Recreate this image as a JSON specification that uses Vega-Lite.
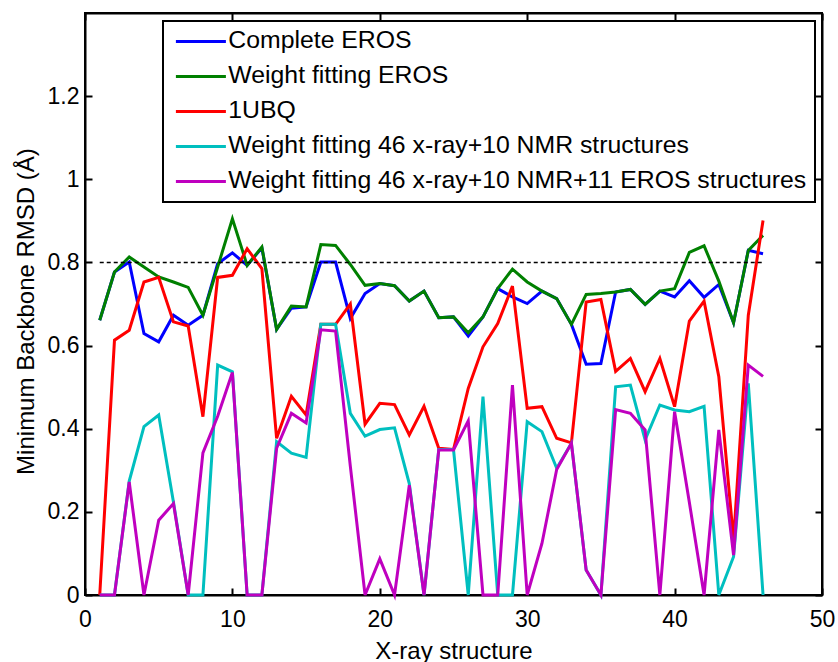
{
  "$schema": "https://vega.github.io/schema/vega-lite/v6.json",
  "width": 737,
  "height": 582,
  "autosize": {"type": "none"},
  "padding": {"left": 85, "top": 13, "right": 16, "bottom": 67},
  "background": "white",
  "config": {
    "font": "Liberation Sans",
    "view": {"stroke": "black", "strokeWidth": 2},
    "axis": {
      "domainColor": "black", "domainWidth": 2,
      "tickColor": "black", "tickWidth": 2, "tickSize": -7,
      "grid": false,
      "labelColor": "black", "labelFont": "Liberation Sans", "labelFontSize": 23,
      "titleFont": "Liberation Sans", "titleFontSize": 24, "titleFontWeight": "normal", "titleColor": "black",
      "labelFlush": false, "labelOverlap": false
    },
    "legend": {"strokeWidth": 2}
  },
  "datasets": {
    "d": [
      {"s":"Complete EROS","x":1,"v":0.661},{"s":"Complete EROS","x":2,"v":0.777},{"s":"Complete EROS","x":3,"v":0.801},{"s":"Complete EROS","x":4,"v":0.629},{"s":"Complete EROS","x":5,"v":0.609},{"s":"Complete EROS","x":6,"v":0.673},{"s":"Complete EROS","x":7,"v":0.649},{"s":"Complete EROS","x":8,"v":0.673},{"s":"Complete EROS","x":9,"v":0.797},{"s":"Complete EROS","x":10,"v":0.823},
      {"s":"Complete EROS","x":11,"v":0.793},{"s":"Complete EROS","x":12,"v":0.835},{"s":"Complete EROS","x":13,"v":0.639},{"s":"Complete EROS","x":14,"v":0.69},{"s":"Complete EROS","x":15,"v":0.693},{"s":"Complete EROS","x":16,"v":0.801},{"s":"Complete EROS","x":17,"v":0.801},{"s":"Complete EROS","x":18,"v":0.665},{"s":"Complete EROS","x":19,"v":0.725},{"s":"Complete EROS","x":20,"v":0.749},
      {"s":"Complete EROS","x":21,"v":0.744},{"s":"Complete EROS","x":22,"v":0.707},{"s":"Complete EROS","x":23,"v":0.731},{"s":"Complete EROS","x":24,"v":0.667},{"s":"Complete EROS","x":25,"v":0.669},{"s":"Complete EROS","x":26,"v":0.623},{"s":"Complete EROS","x":27,"v":0.669},{"s":"Complete EROS","x":28,"v":0.737},{"s":"Complete EROS","x":29,"v":0.717},{"s":"Complete EROS","x":30,"v":0.701},
      {"s":"Complete EROS","x":31,"v":0.731},{"s":"Complete EROS","x":32,"v":0.713},{"s":"Complete EROS","x":33,"v":0.651},{"s":"Complete EROS","x":34,"v":0.555},{"s":"Complete EROS","x":35,"v":0.557},{"s":"Complete EROS","x":36,"v":0.729},{"s":"Complete EROS","x":37,"v":0.735},{"s":"Complete EROS","x":38,"v":0.699},{"s":"Complete EROS","x":39,"v":0.731},{"s":"Complete EROS","x":40,"v":0.717},
      {"s":"Complete EROS","x":41,"v":0.756},{"s":"Complete EROS","x":42,"v":0.716},{"s":"Complete EROS","x":43,"v":0.747},{"s":"Complete EROS","x":44,"v":0.655},{"s":"Complete EROS","x":45,"v":0.829},{"s":"Complete EROS","x":46,"v":0.821},

      {"s":"Weight fitting EROS","x":1,"v":0.661},{"s":"Weight fitting EROS","x":2,"v":0.777},{"s":"Weight fitting EROS","x":3,"v":0.813},{"s":"Weight fitting EROS","x":4,"v":0.789},{"s":"Weight fitting EROS","x":5,"v":0.765},{"s":"Weight fitting EROS","x":6,"v":0.753},{"s":"Weight fitting EROS","x":7,"v":0.74},{"s":"Weight fitting EROS","x":8,"v":0.673},{"s":"Weight fitting EROS","x":9,"v":0.789},{"s":"Weight fitting EROS","x":10,"v":0.905},
      {"s":"Weight fitting EROS","x":11,"v":0.793},{"s":"Weight fitting EROS","x":12,"v":0.837},{"s":"Weight fitting EROS","x":13,"v":0.639},{"s":"Weight fitting EROS","x":14,"v":0.695},{"s":"Weight fitting EROS","x":15,"v":0.693},{"s":"Weight fitting EROS","x":16,"v":0.843},{"s":"Weight fitting EROS","x":17,"v":0.841},{"s":"Weight fitting EROS","x":18,"v":0.795},{"s":"Weight fitting EROS","x":19,"v":0.745},{"s":"Weight fitting EROS","x":20,"v":0.749},
      {"s":"Weight fitting EROS","x":21,"v":0.744},{"s":"Weight fitting EROS","x":22,"v":0.707},{"s":"Weight fitting EROS","x":23,"v":0.731},{"s":"Weight fitting EROS","x":24,"v":0.667},{"s":"Weight fitting EROS","x":25,"v":0.669},{"s":"Weight fitting EROS","x":26,"v":0.631},{"s":"Weight fitting EROS","x":27,"v":0.669},{"s":"Weight fitting EROS","x":28,"v":0.737},{"s":"Weight fitting EROS","x":29,"v":0.784},{"s":"Weight fitting EROS","x":30,"v":0.753},
      {"s":"Weight fitting EROS","x":31,"v":0.731},{"s":"Weight fitting EROS","x":32,"v":0.713},{"s":"Weight fitting EROS","x":33,"v":0.651},{"s":"Weight fitting EROS","x":34,"v":0.723},{"s":"Weight fitting EROS","x":35,"v":0.725},{"s":"Weight fitting EROS","x":36,"v":0.729},{"s":"Weight fitting EROS","x":37,"v":0.735},{"s":"Weight fitting EROS","x":38,"v":0.699},{"s":"Weight fitting EROS","x":39,"v":0.731},{"s":"Weight fitting EROS","x":40,"v":0.737},
      {"s":"Weight fitting EROS","x":41,"v":0.824},{"s":"Weight fitting EROS","x":42,"v":0.84},{"s":"Weight fitting EROS","x":43,"v":0.755},{"s":"Weight fitting EROS","x":44,"v":0.655},{"s":"Weight fitting EROS","x":45,"v":0.829},{"s":"Weight fitting EROS","x":46,"v":0.865},

      {"s":"1UBQ","x":1,"v":0},{"s":"1UBQ","x":2,"v":0.613},{"s":"1UBQ","x":3,"v":0.637},{"s":"1UBQ","x":4,"v":0.753},{"s":"1UBQ","x":5,"v":0.764},{"s":"1UBQ","x":6,"v":0.657},{"s":"1UBQ","x":7,"v":0.647},{"s":"1UBQ","x":8,"v":0.429},{"s":"1UBQ","x":9,"v":0.764},{"s":"1UBQ","x":10,"v":0.769},
      {"s":"1UBQ","x":11,"v":0.833},{"s":"1UBQ","x":12,"v":0.785},{"s":"1UBQ","x":13,"v":0.377},{"s":"1UBQ","x":14,"v":0.478},{"s":"1UBQ","x":15,"v":0.433},{"s":"1UBQ","x":16,"v":0.651},{"s":"1UBQ","x":17,"v":0.651},{"s":"1UBQ","x":18,"v":0.7},{"s":"1UBQ","x":19,"v":0.411},{"s":"1UBQ","x":20,"v":0.461},
      {"s":"1UBQ","x":21,"v":0.458},{"s":"1UBQ","x":22,"v":0.385},{"s":"1UBQ","x":23,"v":0.454},{"s":"1UBQ","x":24,"v":0.353},{"s":"1UBQ","x":25,"v":0.35},{"s":"1UBQ","x":26,"v":0.497},{"s":"1UBQ","x":27,"v":0.597},{"s":"1UBQ","x":28,"v":0.653},{"s":"1UBQ","x":29,"v":0.743},{"s":"1UBQ","x":30,"v":0.449},
      {"s":"1UBQ","x":31,"v":0.453},{"s":"1UBQ","x":32,"v":0.377},{"s":"1UBQ","x":33,"v":0.366},{"s":"1UBQ","x":34,"v":0.705},{"s":"1UBQ","x":35,"v":0.711},{"s":"1UBQ","x":36,"v":0.538},{"s":"1UBQ","x":37,"v":0.569},{"s":"1UBQ","x":38,"v":0.489},{"s":"1UBQ","x":39,"v":0.569},{"s":"1UBQ","x":40,"v":0.453},
      {"s":"1UBQ","x":41,"v":0.659},{"s":"1UBQ","x":42,"v":0.707},{"s":"1UBQ","x":43,"v":0.525},{"s":"1UBQ","x":44,"v":0.132},{"s":"1UBQ","x":45,"v":0.673},{"s":"1UBQ","x":46,"v":0.901},

      {"s":"Weight fitting 46 x-ray+10 NMR structures","x":1,"v":0},{"s":"Weight fitting 46 x-ray+10 NMR structures","x":2,"v":0},{"s":"Weight fitting 46 x-ray+10 NMR structures","x":3,"v":0.274},{"s":"Weight fitting 46 x-ray+10 NMR structures","x":4,"v":0.405},{"s":"Weight fitting 46 x-ray+10 NMR structures","x":5,"v":0.433},{"s":"Weight fitting 46 x-ray+10 NMR structures","x":6,"v":0.224},{"s":"Weight fitting 46 x-ray+10 NMR structures","x":7,"v":0},{"s":"Weight fitting 46 x-ray+10 NMR structures","x":8,"v":0},{"s":"Weight fitting 46 x-ray+10 NMR structures","x":9,"v":0.553},{"s":"Weight fitting 46 x-ray+10 NMR structures","x":10,"v":0.537},
      {"s":"Weight fitting 46 x-ray+10 NMR structures","x":11,"v":0},{"s":"Weight fitting 46 x-ray+10 NMR structures","x":12,"v":0},{"s":"Weight fitting 46 x-ray+10 NMR structures","x":13,"v":0.369},{"s":"Weight fitting 46 x-ray+10 NMR structures","x":14,"v":0.341},{"s":"Weight fitting 46 x-ray+10 NMR structures","x":15,"v":0.331},{"s":"Weight fitting 46 x-ray+10 NMR structures","x":16,"v":0.651},{"s":"Weight fitting 46 x-ray+10 NMR structures","x":17,"v":0.651},{"s":"Weight fitting 46 x-ray+10 NMR structures","x":18,"v":0.437},{"s":"Weight fitting 46 x-ray+10 NMR structures","x":19,"v":0.382},{"s":"Weight fitting 46 x-ray+10 NMR structures","x":20,"v":0.398},
      {"s":"Weight fitting 46 x-ray+10 NMR structures","x":21,"v":0.402},{"s":"Weight fitting 46 x-ray+10 NMR structures","x":22,"v":0.268},{"s":"Weight fitting 46 x-ray+10 NMR structures","x":23,"v":0},{"s":"Weight fitting 46 x-ray+10 NMR structures","x":24,"v":0.35},{"s":"Weight fitting 46 x-ray+10 NMR structures","x":25,"v":0.35},{"s":"Weight fitting 46 x-ray+10 NMR structures","x":26,"v":0},{"s":"Weight fitting 46 x-ray+10 NMR structures","x":27,"v":0.477},{"s":"Weight fitting 46 x-ray+10 NMR structures","x":28,"v":0},{"s":"Weight fitting 46 x-ray+10 NMR structures","x":29,"v":0},{"s":"Weight fitting 46 x-ray+10 NMR structures","x":30,"v":0.417},
      {"s":"Weight fitting 46 x-ray+10 NMR structures","x":31,"v":0.393},{"s":"Weight fitting 46 x-ray+10 NMR structures","x":32,"v":0.305},{"s":"Weight fitting 46 x-ray+10 NMR structures","x":33,"v":0.365},{"s":"Weight fitting 46 x-ray+10 NMR structures","x":34,"v":0.06},{"s":"Weight fitting 46 x-ray+10 NMR structures","x":35,"v":0},{"s":"Weight fitting 46 x-ray+10 NMR structures","x":36,"v":0.501},{"s":"Weight fitting 46 x-ray+10 NMR structures","x":37,"v":0.505},{"s":"Weight fitting 46 x-ray+10 NMR structures","x":38,"v":0.373},{"s":"Weight fitting 46 x-ray+10 NMR structures","x":39,"v":0.457},{"s":"Weight fitting 46 x-ray+10 NMR structures","x":40,"v":0.445},
      {"s":"Weight fitting 46 x-ray+10 NMR structures","x":41,"v":0.441},{"s":"Weight fitting 46 x-ray+10 NMR structures","x":42,"v":0.454},{"s":"Weight fitting 46 x-ray+10 NMR structures","x":43,"v":0},{"s":"Weight fitting 46 x-ray+10 NMR structures","x":44,"v":0.092},{"s":"Weight fitting 46 x-ray+10 NMR structures","x":45,"v":0.509},{"s":"Weight fitting 46 x-ray+10 NMR structures","x":46,"v":0},

      {"s":"Weight fitting 46 x-ray+10 NMR+11 EROS structures","x":1,"v":0},{"s":"Weight fitting 46 x-ray+10 NMR+11 EROS structures","x":2,"v":0},{"s":"Weight fitting 46 x-ray+10 NMR+11 EROS structures","x":3,"v":0.272},{"s":"Weight fitting 46 x-ray+10 NMR+11 EROS structures","x":4,"v":0},{"s":"Weight fitting 46 x-ray+10 NMR+11 EROS structures","x":5,"v":0.18},{"s":"Weight fitting 46 x-ray+10 NMR+11 EROS structures","x":6,"v":0.22},{"s":"Weight fitting 46 x-ray+10 NMR+11 EROS structures","x":7,"v":0},{"s":"Weight fitting 46 x-ray+10 NMR+11 EROS structures","x":8,"v":0.342},{"s":"Weight fitting 46 x-ray+10 NMR+11 EROS structures","x":9,"v":0.43},{"s":"Weight fitting 46 x-ray+10 NMR+11 EROS structures","x":10,"v":0.535},
      {"s":"Weight fitting 46 x-ray+10 NMR+11 EROS structures","x":11,"v":0},{"s":"Weight fitting 46 x-ray+10 NMR+11 EROS structures","x":12,"v":0},{"s":"Weight fitting 46 x-ray+10 NMR+11 EROS structures","x":13,"v":0.353},{"s":"Weight fitting 46 x-ray+10 NMR+11 EROS structures","x":14,"v":0.437},{"s":"Weight fitting 46 x-ray+10 NMR+11 EROS structures","x":15,"v":0.414},{"s":"Weight fitting 46 x-ray+10 NMR+11 EROS structures","x":16,"v":0.638},{"s":"Weight fitting 46 x-ray+10 NMR+11 EROS structures","x":17,"v":0.635},{"s":"Weight fitting 46 x-ray+10 NMR+11 EROS structures","x":18,"v":0.31},{"s":"Weight fitting 46 x-ray+10 NMR+11 EROS structures","x":19,"v":0},{"s":"Weight fitting 46 x-ray+10 NMR+11 EROS structures","x":20,"v":0.087},
      {"s":"Weight fitting 46 x-ray+10 NMR+11 EROS structures","x":21,"v":0},{"s":"Weight fitting 46 x-ray+10 NMR+11 EROS structures","x":22,"v":0.264},{"s":"Weight fitting 46 x-ray+10 NMR+11 EROS structures","x":23,"v":0},{"s":"Weight fitting 46 x-ray+10 NMR+11 EROS structures","x":24,"v":0.349},{"s":"Weight fitting 46 x-ray+10 NMR+11 EROS structures","x":25,"v":0.349},{"s":"Weight fitting 46 x-ray+10 NMR+11 EROS structures","x":26,"v":0.419},{"s":"Weight fitting 46 x-ray+10 NMR+11 EROS structures","x":27,"v":0},{"s":"Weight fitting 46 x-ray+10 NMR+11 EROS structures","x":28,"v":0},{"s":"Weight fitting 46 x-ray+10 NMR+11 EROS structures","x":29,"v":0.505},{"s":"Weight fitting 46 x-ray+10 NMR+11 EROS structures","x":30,"v":0},
      {"s":"Weight fitting 46 x-ray+10 NMR+11 EROS structures","x":31,"v":0.124},{"s":"Weight fitting 46 x-ray+10 NMR+11 EROS structures","x":32,"v":0.302},{"s":"Weight fitting 46 x-ray+10 NMR+11 EROS structures","x":33,"v":0.365},{"s":"Weight fitting 46 x-ray+10 NMR+11 EROS structures","x":34,"v":0.06},{"s":"Weight fitting 46 x-ray+10 NMR+11 EROS structures","x":35,"v":0},{"s":"Weight fitting 46 x-ray+10 NMR+11 EROS structures","x":36,"v":0.446},{"s":"Weight fitting 46 x-ray+10 NMR+11 EROS structures","x":37,"v":0.437},{"s":"Weight fitting 46 x-ray+10 NMR+11 EROS structures","x":38,"v":0.397},{"s":"Weight fitting 46 x-ray+10 NMR+11 EROS structures","x":39,"v":0},{"s":"Weight fitting 46 x-ray+10 NMR+11 EROS structures","x":40,"v":0.441},
      {"s":"Weight fitting 46 x-ray+10 NMR+11 EROS structures","x":41,"v":0.223},{"s":"Weight fitting 46 x-ray+10 NMR+11 EROS structures","x":42,"v":0},{"s":"Weight fitting 46 x-ray+10 NMR+11 EROS structures","x":43,"v":0.397},{"s":"Weight fitting 46 x-ray+10 NMR+11 EROS structures","x":44,"v":0.096},{"s":"Weight fitting 46 x-ray+10 NMR+11 EROS structures","x":45,"v":0.553},{"s":"Weight fitting 46 x-ray+10 NMR+11 EROS structures","x":46,"v":0.526}
    ],
    "ref": [{"x": 1, "v": 0.8}, {"x": 46, "v": 0.8}]
  },
  "layer": [
    {
      "data": {"name": "d"},
      "mark": {"type": "line", "strokeWidth": 3, "clip": false},
      "encoding": {
        "x": {
          "field": "x", "type": "quantitative",
          "scale": {"domain": [0, 50], "nice": false, "zero": false},
          "axis": {"values": [0, 10, 20, 30, 40, 50], "title": "X-ray structure", "labelPadding": 20, "titleY": 63, "titleBaseline": "alphabetic"}
        },
        "y": {
          "field": "v", "type": "quantitative",
          "scale": {"domain": [0, 1.4], "nice": false},
          "axis": {"values": [0, 0.2, 0.4, 0.6, 0.8, 1, 1.2], "format": "~g", "title": "Minimum Backbone RMSD (Å)", "labelPadding": 13, "titleX": -52, "titleY": 298, "titleBaseline": "alphabetic", "titleAngle": -90}
        },
        "color": {
          "field": "s", "type": "nominal",
          "scale": {
            "domain": ["Complete EROS", "Weight fitting EROS", "1UBQ", "Weight fitting 46 x-ray+10 NMR structures", "Weight fitting 46 x-ray+10 NMR+11 EROS structures"],
            "range": ["#0000FF", "#008000", "#FF0000", "#00BFBF", "#BF00BF"]
          },
          "legend": {
            "title": null, "orient": "none", "legendX": 78, "legendY": 8,
            "symbolType": "M-5,0L5,0", "symbolSize": 100, "symbolStrokeWidth": 3,
            "symbolOffset": 17.5, "labelOffset": 15, "rowPadding": 9, "padding": 8,
            "labelFont": "Liberation Sans", "labelFontSize": 24.8, "labelColor": "black", "labelLimit": 1000,
            "strokeColor": "black", "fillColor": "white"
          }
        }
      }
    },
    {
      "data": {"name": "ref"},
      "mark": {"type": "line", "color": "black", "strokeWidth": 1.6, "strokeDash": [4, 3]},
      "encoding": {
        "x": {
          "field": "x", "type": "quantitative",
          "scale": {"domain": [0, 50], "nice": false, "zero": false},
          "axis": {"orient": "top", "values": [0, 10, 20, 30, 40, 50], "labels": false, "title": null}
        },
        "y": {
          "field": "v", "type": "quantitative",
          "scale": {"domain": [0, 1.4], "nice": false},
          "axis": {"orient": "right", "values": [0, 0.2, 0.4, 0.6, 0.8, 1, 1.2], "labels": false, "title": null}
        }
      }
    }
  ],
  "resolve": {"axis": {"x": "independent", "y": "independent"}}
}
